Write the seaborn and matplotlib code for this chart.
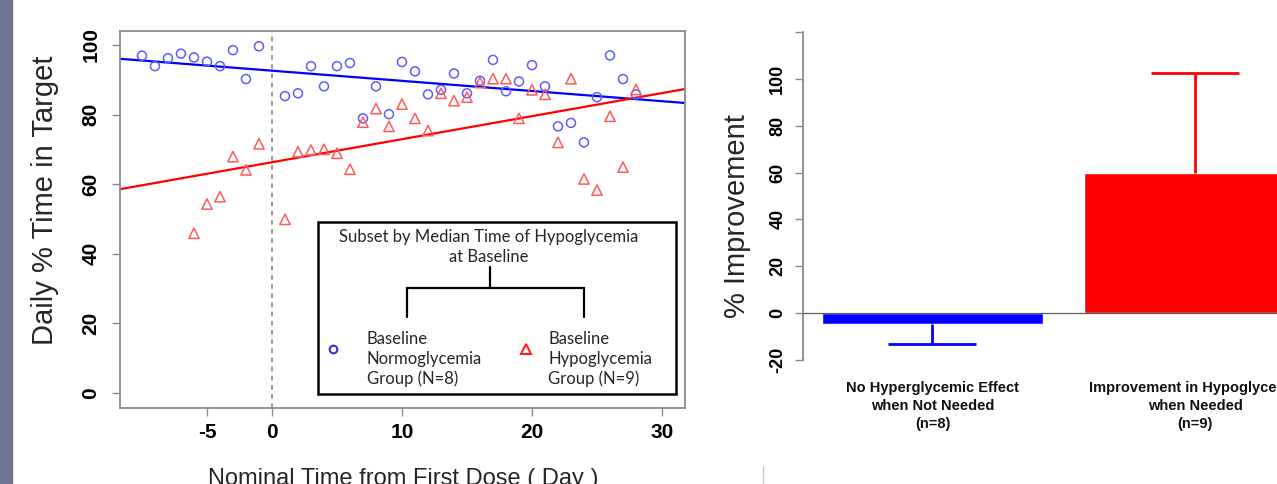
import matplotlib
matplotlib.use("Agg")
import matplotlib.pyplot as plt
import numpy as np
import pandas as pd
import seaborn as sns
from matplotlib.patches import Rectangle
from matplotlib.lines import Line2D

# ---------------- data ----------------
normo_days = [-10, -9, -8, -7, -6, -5, -4, -3, -2, -1,
              1, 2, 3, 4, 5, 6, 7, 8, 9, 10, 11, 12, 13, 14, 15, 16, 17, 18, 19, 20,
              21, 22, 23, 24, 25, 26, 27, 28]
normo_pct = [96.9, 93.9, 96.2, 97.5, 96.4, 95.2, 93.9, 98.5, 90.2, 99.6,
             85.3, 86.1, 93.9, 88.1, 93.9, 94.8, 78.9, 88.1, 80.1, 95.1, 92.4, 85.8,
             87.1, 91.8, 86.1, 89.7, 95.7, 86.7, 89.5, 94.2, 88.1, 76.6, 77.6, 72.0,
             85.0, 97.0, 90.2, 85.8]
hypo_days = [-6, -5, -4, -3, -2, -1,
             1, 2, 3, 4, 5, 6, 7, 8, 9, 10, 11, 12, 13, 14, 15, 16, 17, 18, 19, 20,
             21, 22, 23, 24, 25, 26, 27, 28]
hypo_pct = [45.9, 54.3, 56.4, 67.9, 64.1, 71.6,
            49.9, 69.3, 69.8, 70.0, 68.9, 64.3, 77.8, 81.7, 76.6, 83.0, 78.9, 75.4,
            86.1, 84.0, 85.0, 89.2, 90.3, 90.3, 78.9, 87.1, 85.8, 72.0, 90.3, 61.5,
            58.3, 79.5, 64.9, 87.2]
normo_fit = [92.6, -0.292]   # intercept, slope
hypo_fit = [66.3, 0.662]

x_ticks = [-5, 0, 10, 20, 30]
y_ticks = [0, 20, 40, 60, 80, 100]

bar_categories = ["No Hyperglycemic Effect\nwhen Not Needed\n(n=8)",
                  "Improvement in Hypoglycemia\nwhen Needed\n(n=9)"]
bar_values = [-4.7, 59.8]
bar_err_low = [8.5, 0.0]
bar_err_high = [0.0, 42.8]
bar_y_ticks = [-20, 0, 20, 40, 60, 80, 100, 120]
bar_y_ticklabels = ["-20", "0", "20", "40", "60", "80", "100", ""]

legend_title = "Subset by Median Time of Hypoglycemia\nat Baseline"
legend_normo = "Baseline\nNormoglycemia\nGroup (N=8)"
legend_hypo = "Baseline\nHypoglycemia\nGroup (N=9)"

# ---------------- style ----------------
sns.set_style("white")
plt.rcParams["font.family"] = ["Liberation Sans", "DejaVu Sans"]

W, H = 1277, 484
fig = plt.figure(figsize=(W / 100, H / 100), dpi=100)


def fx(px):
    return px / W


def fy(py):
    return 1 - py / H


BLUE_PT = "#5c5cff"
RED_PT = "#ff5a5a"
AX_GREY = "#8a8a8a"

# slide side bar
fig.add_artist(Rectangle((0, 0), fx(12), 1, transform=fig.transFigure,
                         color="#6d7592", zorder=0))
# small slide artifact line
fig.add_artist(Line2D([fx(763), fx(763)], [fy(466), fy(484)],
                      transform=fig.transFigure, color="#c8c8c8", lw=1))

# ---------------- left panel ----------------
ax = fig.add_axes([fx(120), fy(408), fx(685) - fx(120), fy(31) - fy(408)])
df_n = pd.DataFrame({"day": normo_days, "pct": normo_pct})
df_h = pd.DataFrame({"day": hypo_days, "pct": hypo_pct})

sns.scatterplot(data=df_n, x="day", y="pct", marker="o", s=42, ax=ax,
                color=BLUE_PT, linewidth=1.1, zorder=3)
ax.collections[-1].set_facecolor("none")
ax.collections[-1].set_edgecolor(BLUE_PT)
sns.scatterplot(data=df_h, x="day", y="pct", marker="^", s=55, ax=ax,
                color=RED_PT, linewidth=1.1, zorder=3)
ax.collections[-1].set_facecolor("none")
ax.collections[-1].set_edgecolor(RED_PT)

ax.axline((0, normo_fit[0]), slope=normo_fit[1], color="#0000ff", lw=1.6, zorder=2)
ax.axline((0, hypo_fit[0]), slope=hypo_fit[1], color="#ff0000", lw=1.6, zorder=2)
ax.axvline(0, color="#808080", lw=1.1, ls=(0, (3, 3)), zorder=1)

ax.set_xlim(-11.69, 31.77)
ax.set_ylim(-4.3, 104.0)
ax.set_xticks(x_ticks)
ax.set_yticks(y_ticks)
ax.set_xticklabels([str(v) for v in x_ticks])
ax.set_yticklabels([str(v) for v in y_ticks])
ax.tick_params(axis="both", colors=AX_GREY, labelcolor="black", labelsize=15,
               length=6, width=1, direction="out", bottom=True, left=True)
ax.tick_params(axis="x", pad=5)
ax.tick_params(axis="y", pad=8)
for lbl in ax.get_xticklabels() + ax.get_yticklabels():
    lbl.set_fontweight("bold")
for lbl in ax.get_yticklabels():
    lbl.set_rotation(90)
    lbl.set_va("center")
for sp in ax.spines.values():
    sp.set_color(AX_GREY)
    sp.set_linewidth(1.3)
    sp.set_visible(True)
ax.set_xlabel("")
ax.set_ylabel("")

fig.text(fx(45), fy(200), "Daily % Time in Target", rotation=90,
         ha="center", va="center", fontsize=21)
fig.text(fx(403), fy(485), "Nominal Time from First Dose ( Day )",
         ha="center", va="baseline", fontsize=17)

# legend box
LFONT = ["Lato", "DejaVu Sans"]
fig.add_artist(Rectangle((fx(318), fy(394)), fx(676) - fx(318), fy(222) - fy(394),
                         transform=fig.transFigure, facecolor="white",
                         edgecolor="black", lw=1.8, zorder=5))
fig.text(fx(489), fy(247), legend_title, ha="center", va="center",
         fontsize=12, family=LFONT, linespacing=1.3, zorder=6)
bx = [fx(407), fx(407), fx(584), fx(584)]
by = [fy(317), fy(288), fy(288), fy(317)]
fig.add_artist(Line2D(bx, by, transform=fig.transFigure, color="black", lw=1.6,
                      zorder=6, solid_joinstyle="miter"))
fig.add_artist(Line2D([fx(490), fx(490)], [fy(267), fy(288)],
                      transform=fig.transFigure, color="black", lw=1.6, zorder=6))
fig.add_artist(Line2D([fx(333)], [fy(349)], transform=fig.transFigure,
                      marker="o", ms=5.5, mfc="none", mec="#3434d0", mew=1.5,
                      ls="none", zorder=6))
fig.add_artist(Line2D([fx(526)], [fy(349)], transform=fig.transFigure,
                      marker="^", ms=6.5, mfc="none", mec="#ff2020", mew=1.5,
                      ls="none", zorder=6))
fig.text(fx(367), fy(359), legend_normo, ha="left", va="center",
         fontsize=12, family=LFONT, linespacing=1.3, zorder=6)
fig.text(fx(548), fy(359), legend_hypo, ha="left", va="center",
         fontsize=12, family=LFONT, linespacing=1.3, zorder=6)

# ---------------- right panel ----------------
ax2 = fig.add_axes([fx(803), fy(373), fx(1330) - fx(803), fy(19) - fy(373)])
df_b = pd.DataFrame({"cat": bar_categories, "val": bar_values})
sns.barplot(data=df_b, x="cat", y="val", hue="cat",
            palette=["#0000ff", "#ff0000"], width=0.842, saturation=1,
            errorbar=None, legend=False, ax=ax2, zorder=2)
for i, c in enumerate(["#0000ff", "#ff0000"]):
    _, caps, _ = ax2.errorbar([i], [bar_values[i]],
                              yerr=[[bar_err_low[i]], [bar_err_high[i]]],
                              fmt="none", ecolor=c, elinewidth=2.0, capsize=31.5,
                              capthick=2.0, zorder=3)
    # keep only the outer cap
    if bar_err_low[i] == 0:
        caps[0].set_visible(False)
    if bar_err_high[i] == 0:
        caps[1].set_visible(False)
ax2.axhline(0, color="#606060", lw=0.9, zorder=4)
ax2.set_xlim(-0.493, 1.514)
ax2.set_ylim(-25.6, 125.6)
ax2.set_yticks(bar_y_ticks)
ax2.set_yticklabels(bar_y_ticklabels)
ax2.tick_params(axis="y", colors=AX_GREY, labelcolor="black", labelsize=13,
                length=6, width=1, pad=6, left=True)
for lbl in ax2.get_yticklabels():
    lbl.set_rotation(90)
    lbl.set_va("center")
    lbl.set_fontweight("bold")
ax2.tick_params(axis="x", length=0, pad=6, labelsize=10.5, labelcolor="#111111")
for lbl in ax2.get_xticklabels():
    lbl.set_fontweight("bold")
    lbl.set_linespacing(1.35)
for side in ["top", "right", "bottom"]:
    ax2.spines[side].set_visible(False)
ax2.spines["left"].set_visible(True)
ax2.spines["left"].set_color(AX_GREY)
ax2.spines["left"].set_linewidth(1.3)
ax2.spines["left"].set_bounds(-20, 120)
ax2.set_xlabel("")
ax2.set_ylabel("")
fig.text(fx(737), fy(216), "% Improvement", rotation=90, ha="center",
         va="center", fontsize=21)

fig.savefig("out.png", dpi=100)
